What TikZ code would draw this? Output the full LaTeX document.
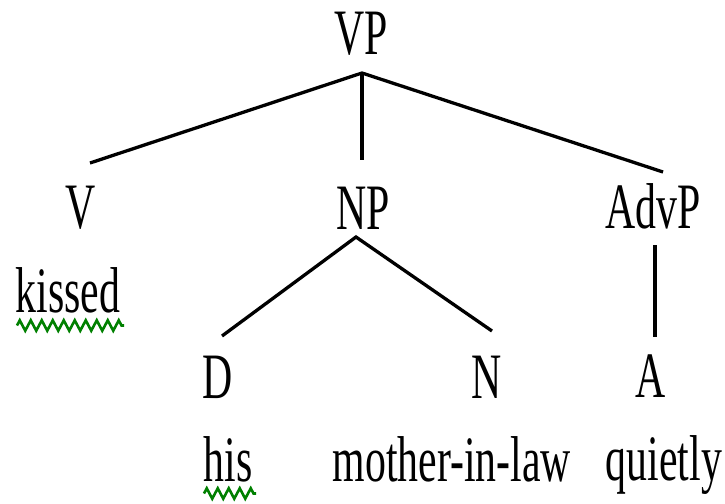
\documentclass[tikz,border=0pt]{standalone}
\usepackage{fontspec}
\setmainfont{Liberation Serif}
\usetikzlibrary{decorations.pathmorphing}
% tall serif labels for the tree
\newcommand\talltext[1]{\scalebox{1}[1.55]{#1}}
\definecolor{spellgreen}{RGB}{0,128,0}
\begin{document}
\begin{tikzpicture}[x=1pt,y=-1pt,
  lbl/.style={anchor=base, inner sep=0pt, font=\fontsize{41.8}{42}\selectfont},
  branch/.style={line width=3.3pt, draw=black},
  squiggle/.style={draw=spellgreen, line width=2.6pt, decorate,
    decoration={zigzag, segment length=11pt, amplitude=5.2pt}}]
\useasboundingbox (0,0) rectangle (725,503);

% category labels
\node[lbl] (VP)   at (361,55)  {\talltext{VP}};
\node[lbl] (V)    at (81,228)  {\talltext{V}};
\node[lbl] (NP)   at (363,229) {\talltext{NP}};
\node[lbl] (AdvP) at (653,228) {\talltext{AdvP}};
\node[lbl] (D)    at (218,398) {\talltext{D}};
\node[lbl] (N)    at (487,398) {\talltext{N}};
\node[lbl] (A)    at (651,397) {\talltext{A}};

% words
\node[lbl] (kissed) at (68,312)  {\talltext{kissed}};
\node[lbl] (his)    at (228,481) {\talltext{his}};
\node[lbl] (mil)    at (452,481) {\talltext{mother-in-law}};
\node[lbl] (quietly) at (664,480) {\talltext{quietly}};

% branch attachment points
\coordinate (VP-b)   at (362,73);
\coordinate (V-t)    at (90,163);
\coordinate (NP-t)   at (362,160);
\coordinate (AdvP-t) at (663,172);
\coordinate (NP-b)   at (356,237);
\coordinate (D-t)    at (222,336);
\coordinate (N-t)    at (492,331);
\coordinate (AdvP-b) at (655,245);
\coordinate (A-t)    at (655,337);

\draw[branch] (V-t) -- (VP-b) -- (AdvP-t);
\draw[branch] (VP-b) -- (NP-t);
\draw[branch] (D-t) -- (NP-b) -- (N-t);
\draw[branch] (AdvP-b) -- (A-t);

% spell-check underlines
\coordinate (kissed-sl) at (17,325.5);
\coordinate (kissed-sr) at (124,325.5);
\coordinate (his-sl) at (204,493.5);
\coordinate (his-sr) at (256,493.5);
\draw[squiggle] (kissed-sl) -- (kissed-sr);
\draw[squiggle] (his-sl) -- (his-sr);
\end{tikzpicture}
\end{document}
